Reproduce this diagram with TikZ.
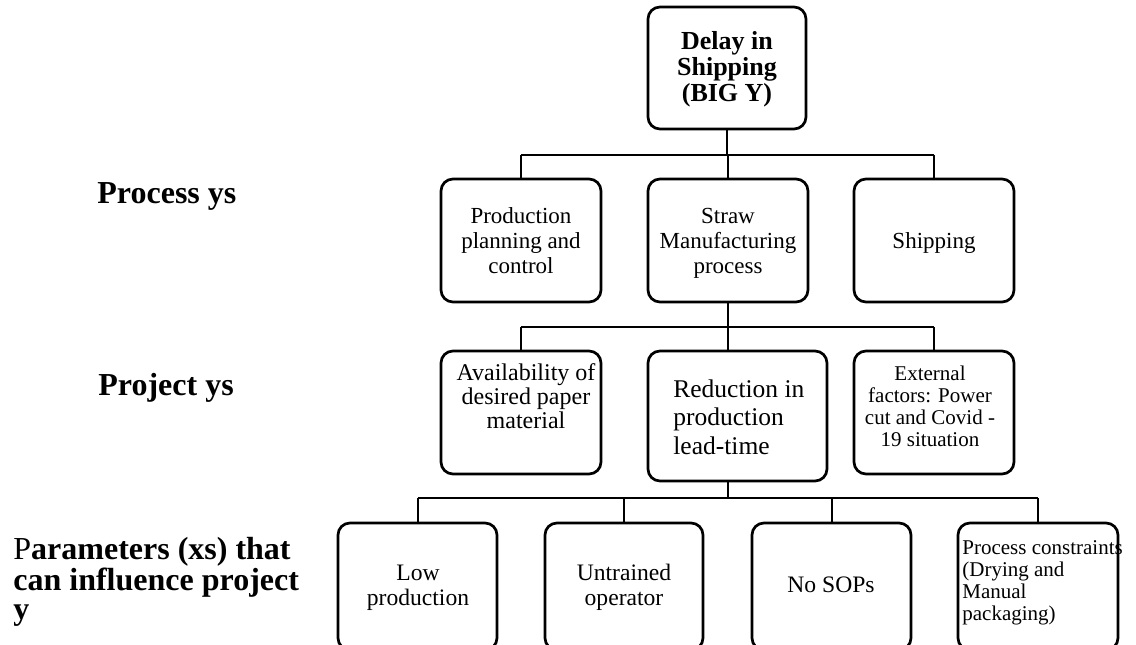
\documentclass[tikz,border=0pt]{standalone}
\usepackage{fontspec}
\setmainfont{Liberation Serif}
\begin{document}
\begin{tikzpicture}[x=0.5pt,y=-0.5pt,
  box/.style={draw,line width=1.35pt,rounded corners=6pt,inner sep=0pt,minimum width=80pt,minimum height=61.5pt},
  tx/.style={inner sep=0pt,anchor=base,align=center},
  conn/.style={line width=1pt},
  lbl/.style={inner sep=0pt,anchor=base west,align=left,font=\fontsize{16}{14.2}\selectfont\bfseries}]
\useasboundingbox (0,0) rectangle (1136,644);
\clip (0,0) rectangle (1136,644);
% boxes
\node[box,minimum width=79pt,minimum height=61pt] (top) at (727,68) {};
\node[box] (prod) at (521,240.5) {};
\node[box] (straw) at (728,240.5) {};
\node[box] (ship) at (934,240.5) {};
\node[box] (avail) at (521,412.5) {};
\node[box,minimum width=89.5pt,minimum height=65pt] (red) at (737.5,416) {};
\node[box] (ext) at (934,412.5) {};
\node[box,minimum width=79.5pt,minimum height=63.5pt] (low) at (417.5,586.5) {};
\node[box,minimum width=79pt,minimum height=63.5pt] (untr) at (624,586.5) {};
\node[box,minimum width=79.5pt,minimum height=63.5pt] (nosop) at (831.5,586.5) {};
\node[box,minimum width=80pt,minimum height=63.5pt] (proc) at (1038,586.5) {};
% texts (anchor = baseline of the last line)
\node[tx,font=\fontsize{13}{13.1}\selectfont\bfseries] (ttop) at (727,101.7) {Delay in\\Shipping\\(BIG Y)};
\node[tx,font=\fontsize{11.5}{12.5}\selectfont] (tprod) at (521,273) {Production\\planning and\\control};
\node[tx,font=\fontsize{11.5}{12.5}\selectfont] (tstraw) at (728,273) {Straw\\Manufacturing\\process};
\node[tx,font=\fontsize{11.5}{12.5}\selectfont] (tship) at (934,248) {Shipping};
\node[tx,font=\fontsize{12}{12}\selectfont] (tavail) at (526,428) {Availability of\\desired paper\\material};
\node[tx,anchor=base west,align=left,font=\fontsize{12.75}{14.25}\selectfont] (tred) at (673,454) {Reduction in\\production\\lead-time};
\node[tx,font=\fontsize{10.5}{11}\selectfont] (text) at (930,446) {External\\factors: Power\\cut and Covid -\\19 situation};
\node[tx,font=\fontsize{11.8}{12.5}\selectfont] (tlow) at (418,605) {Low\\production};
\node[tx,font=\fontsize{11.8}{12.5}\selectfont] (tuntr) at (624,605) {Untrained\\operator};
\node[tx,font=\fontsize{11.8}{12.5}\selectfont] (tnosop) at (831,592) {No SOPs};
\node[tx,anchor=base west,align=left,font=\fontsize{10.5}{10.85}\selectfont] (tproc) at (962,620) {Process constraints\\(Drying and\\Manual\\packaging)};
% left labels
\node[lbl] (lproc) at (97,203) {Process ys};
\node[lbl] (lproj) at (98,395) {Project ys};
\node[lbl] (lpar) at (13,619) {{\mdseries P}arameters (xs) that\\can influence project\\y};
% connectors
\coordinate (b1) at (727,155);
\coordinate (b2) at (728,327);
\coordinate (b3) at (728,498);
\draw[conn] (top.south) -- (b1);
\draw[conn] (prod.north |- b1) -- (ship.north |- b1);
\draw[conn] (prod.north |- b1) -- (prod.north);
\draw[conn] (straw.north |- b1) -- (straw.north);
\draw[conn] (ship.north |- b1) -- (ship.north);
\draw[conn] (straw.south) -- (b2);
\draw[conn] (avail.north |- b2) -- (ext.north |- b2);
\draw[conn] (avail.north |- b2) -- (avail.north);
\draw[conn] (b2) -- (b2 |- red.north);
\draw[conn] (ext.north |- b2) -- (ext.north);
\draw[conn] (b3 |- red.south) -- (b3);
\draw[conn] (low.north |- b3) -- (proc.north |- b3);
\draw[conn] (low.north |- b3) -- (low.north);
\draw[conn] (untr.north |- b3) -- (untr.north);
\draw[conn] (nosop.north |- b3) -- (nosop.north);
\draw[conn] (proc.north |- b3) -- (proc.north);
\end{tikzpicture}
\end{document}
